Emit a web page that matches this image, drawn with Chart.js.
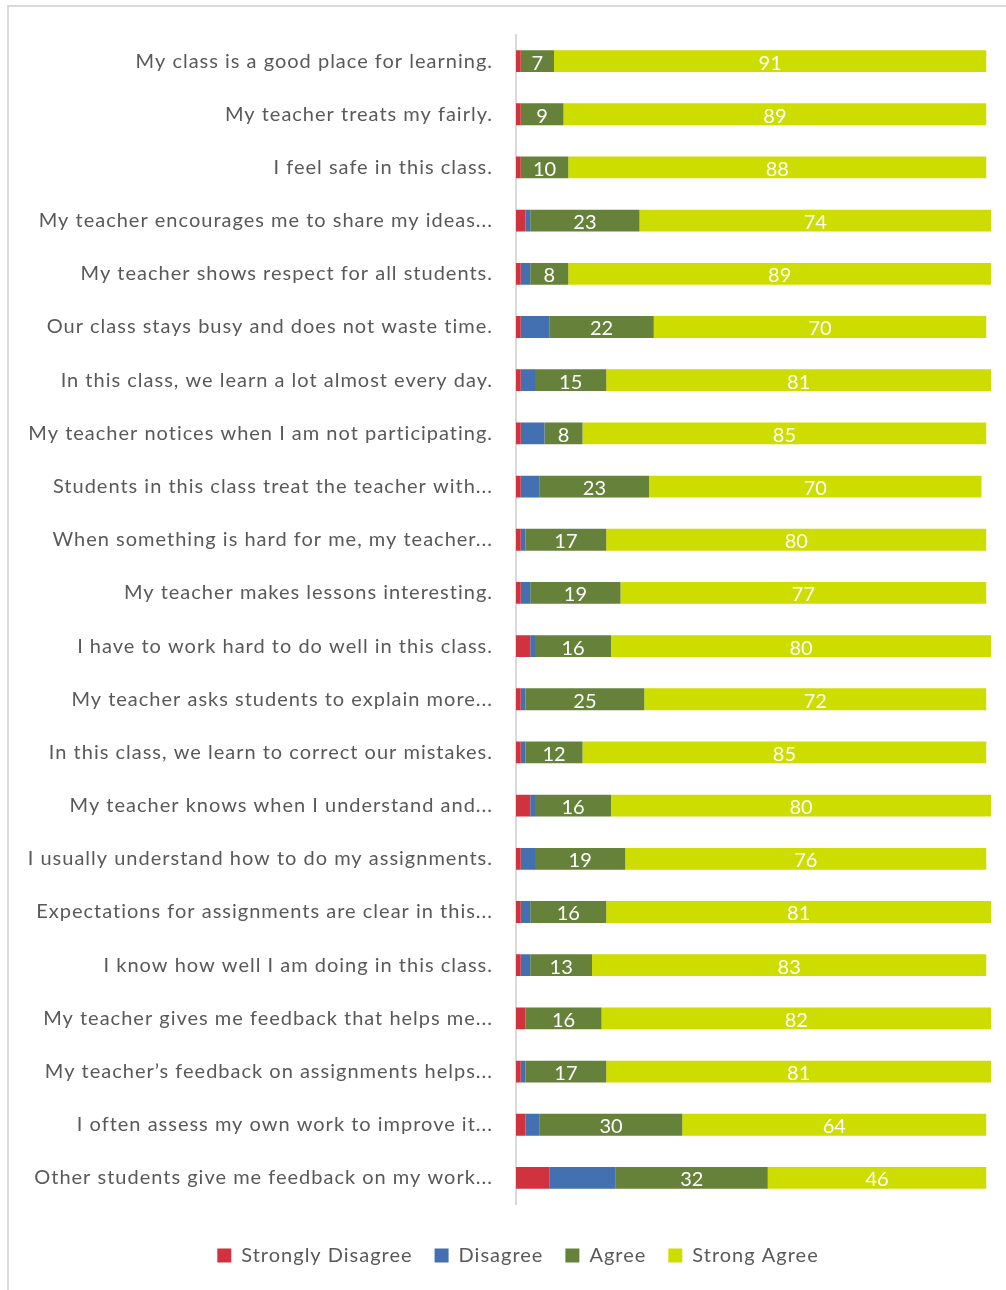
<!DOCTYPE html>
<html>
<head>
<meta charset="utf-8">
<script src="https://cdn.jsdelivr.net/npm/chart.js@4"></script>
<style>
    html, body {
        margin: 0;
        padding: 0;
        background: #ffffff;
        width: 1006px;
        height: 1290px;
        overflow: hidden;
        position: relative;
    }
    .frame {
        position: absolute;
        left: 7px;
        top: 5px;
        width: 1100px;
        height: 1400px;
        border-top: 2px solid #d9d9d9;
        border-left: 2px solid #d9d9d9;
    }
    #surveyChart {
        position: absolute;
        left: 8px;
        top: 5px;
    }
</style>
</head>
<body>
<div class="frame"></div>
<canvas id="surveyChart" width="1020" height="1285"></canvas>
<script>
// Survey statements, top to bottom
const statements = [
    'My class is a good place for learning.',
    'My teacher treats my fairly.',
    'I feel safe in this class.',
    'My teacher encourages me to share my ideas...',
    'My teacher shows respect for all students.',
    'Our class stays busy and does not waste time.',
    'In this class, we learn a lot almost every day.',
    'My teacher notices when I am not participating.',
    'Students in this class treat the teacher with...',
    'When something is hard for me, my teacher...',
    'My teacher makes lessons interesting.',
    'I have to work hard to do well in this class.',
    'My teacher asks students to explain more...',
    'In this class, we learn to correct our mistakes.',
    'My teacher knows when I understand and...',
    'I usually understand how to do my assignments.',
    'Expectations for assignments are clear in this...',
    'I know how well I am doing in this class.',
    'My teacher gives me feedback that helps me...',
    'My teacher\u2019s feedback on assignments helps...',
    'I often assess my own work to improve it...',
    'Other students give me feedback on my work...'
];

// Percent of responses per statement
const stronglyDisagree = [1, 1, 1, 2, 1, 1, 1, 1, 1, 1, 1, 3, 1, 1, 3, 1, 1, 1, 2, 1, 2, 7];
const disagree         = [0, 0, 0, 1, 2, 6, 3, 5, 4, 1, 2, 1, 1, 1, 1, 3, 2, 2, 0, 1, 3, 14];
const agree            = [7, 9, 10, 23, 8, 22, 15, 8, 23, 17, 19, 16, 25, 12, 16, 19, 16, 13, 16, 17, 30, 32];
const strongAgree      = [91, 89, 88, 74, 89, 70, 81, 85, 70, 80, 77, 80, 72, 85, 80, 76, 81, 83, 82, 81, 64, 46];

const textGray = '#595959';
const fontFamily = 'Lato, "Open Sans", sans-serif';

// axis + legend text is set a bit loose
const looseText = {
    id: 'looseText',
    beforeLayout(chart) { chart.ctx.letterSpacing = '1px'; },
    beforeDraw(chart) { chart.ctx.letterSpacing = '1px'; }
};

// legend is centred on the whole frame, not just up to the plot's right edge
const legendShift = {
    id: 'legendShift',
    afterLayout(chart) {
        chart.legend.left += 37;
    }
};

// write the numbers on the Agree / Strong Agree segments
const segmentLabels = {
    id: 'segmentLabels',
    afterDatasetsDraw(chart) {
        const ctx = chart.ctx;
        ctx.save();
        ctx.letterSpacing = '0px';
        ctx.fillStyle = '#ffffff';
        ctx.font = '20px ' + fontFamily;
        ctx.textAlign = 'center';
        ctx.textBaseline = 'middle';
        [2, 3].forEach(function(di) {
            const meta = chart.getDatasetMeta(di);
            const values = chart.data.datasets[di].data;
            meta.data.forEach(function(bar, i) {
                if (!values[i]) return;
                const p = bar.getProps(['x', 'base', 'y'], true);
                ctx.fillText(String(values[i]), (p.x + p.base) / 2, p.y + 2);
            });
        });
        ctx.restore();
    }
};

document.addEventListener('DOMContentLoaded', function() {
    const ctx = document.getElementById('surveyChart').getContext('2d');
    new Chart(ctx, {
        type: 'bar',
        data: {
            labels: statements,
            datasets: [
                { label: 'Strongly Disagree', data: stronglyDisagree, backgroundColor: '#d0333d' },
                { label: 'Disagree', data: disagree, backgroundColor: '#4270b0' },
                { label: 'Agree', data: agree, backgroundColor: '#66813a' },
                { label: 'Strong Agree', data: strongAgree, backgroundColor: '#cedd00' }
            ]
        },
        options: {
            indexAxis: 'y',
            responsive: false,
            animation: false,
            datasets: {
                bar: {
                    categoryPercentage: 1,
                    barPercentage: 0.41,
                    borderWidth: 0
                }
            },
            layout: {
                padding: { top: 29.5, right: 37, bottom: 14.5, left: 0 }
            },
            scales: {
                x: {
                    stacked: true,
                    min: 0,
                    max: 100,
                    grid: { display: false, drawTicks: false },
                    border: { display: false },
                    ticks: { display: false },
                    afterFit: function(scale) {
                        scale.height = 19;
                    }
                },
                y: {
                    stacked: true,
                    grid: { display: false, drawTicks: false },
                    border: { display: true, color: '#d9d9d9', width: 2 },
                    ticks: {
                        autoSkip: false,
                        padding: 23,
                        color: textGray,
                        font: { family: fontFamily, size: 20 }
                    },
                    afterFit: function(scale) {
                        scale.width = 508;
                        scale.paddingTop = 0;
                        scale.paddingBottom = 0;
                    }
                }
            },
            plugins: {
                legend: {
                    position: 'bottom',
                    labels: {
                        boxWidth: 14,
                        boxHeight: 14,
                        padding: 22,
                        color: textGray,
                        font: { family: fontFamily, size: 20 }
                    }
                },
                tooltip: { enabled: false }
            }
        },
        plugins: [looseText, legendShift, segmentLabels]
    });
});
</script>
</body>
</html>
